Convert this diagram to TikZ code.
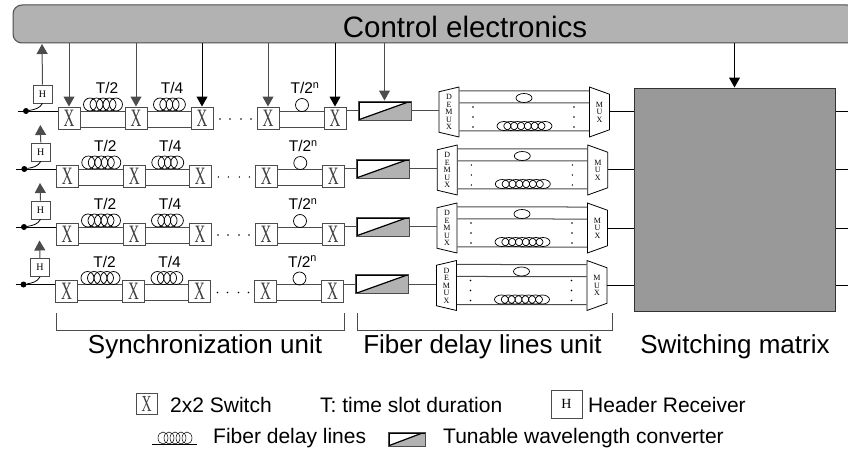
\documentclass[tikz,border=0pt]{standalone}
\usepackage{fontspec}
\setmainfont{Liberation Sans}
\newfontfamily\boxfont{Liberation Serif}
\usetikzlibrary{positioning,calc,shapes.geometric,arrows.meta}
\definecolor{barGray}{gray}{0.70}
\definecolor{matrixGray}{gray}{0.60}
\definecolor{lineGray}{gray}{0.30}
% vong soi quang: x dau, buoc, so vong, rx, y
\newcommand{\fibercoil}[5]{
    \foreach \k in {1,...,#3} {
        \draw[coil] ({#1+(\k-1)*#2},#5) ellipse ({#4} and 6.5);
    }
}
\begin{document}
\begin{tikzpicture}[
        x=1pt, y=-1pt,
        % Style cho cac node
        switchbox/.style={
            rectangle,
            draw=lineGray,
            fill=white,
            text=black!75,
            line width=1pt,
            minimum size=22pt,
            inner sep=0pt,
            font=\boxfont\fontsize{25}{25}\selectfont
        },
        headerbox/.style={
            rectangle,
            draw=lineGray,
            fill=white,
            line width=0.8pt,
            minimum width=19pt,
            minimum height=18pt,
            inner sep=0pt,
            font=\boxfont\fontsize{10}{10}\selectfont
        },
        converter/.style={
            rectangle,
            draw=lineGray,
            line width=1pt,
            minimum width=53pt,
            minimum height=19pt,
            inner sep=0pt,
            path picture={
                \fill[barGray] (path picture bounding box.south west) -- (path picture bounding box.south east) -- (path picture bounding box.north east) -- cycle;
                \draw[black, line width=1.2pt] (path picture bounding box.south west) -- (path picture bounding box.north east);
                \draw[black, line width=3pt] (path picture bounding box.south west) -- (path picture bounding box.north west) -- (path picture bounding box.north east);
            }
        },
        muxbox/.style={
            trapezium,
            draw=black,
            fill=white,
            line width=0.8pt,
            trapezium stretches=true,
            minimum width=50pt,
            minimum height=20pt,
            inner sep=0pt,
            align=center,
            font=\boxfont\fontsize{8}{7.5}\selectfont
        },
        wire/.style={draw=lineGray, line width=1pt},
        coil/.style={draw=black, line width=0.7pt},
        ctl/.style={draw=lineGray, line width=1pt, -{Triangle[length=10pt, width=11pt]}},
        title/.style={font=\fontsize{26}{28}\selectfont},
        legend/.style={font=\fontsize{21}{24}\selectfont, anchor=west, inner sep=0pt},
        tag/.style={font=\fontsize{15.5}{17}\selectfont}
    ]
        \useasboundingbox (0,0) rectangle (848,452);

        % --- 1. KHOI DIEU KHIEN VA MA TRAN ---
        \node[rectangle, draw=black!70, fill=barGray, line width=1pt, rounded corners=9pt, minimum width=843pt, minimum height=38pt, inner sep=0pt] (ctrl) at (434.5,24) {};
        \node[font=\fontsize{29.5}{32}\selectfont] (ctrltext) at (465,27) {Control electronics};
        \node[rectangle, draw=black!80, fill=matrixGray, line width=1pt, minimum width=201pt, minimum height=223pt, inner sep=0pt] (swm) at (734.5,199.5) {};
        \draw[ctl, draw=black] (swm.north |- ctrl.south) -- (swm.north);

        % --- 2. BON HANG ---
        \foreach \r/\dx/\dy/\tip in {1/0/0/44, 2/-1.7/58/67, 3/-2/116/67, 4/-2.5/173.5/67} {
            \begin{scope}[shift={(\dx,\dy)}]
                % Dau vao va header
                \coordinate (in\r) at (18,111);
                \coordinate (top\r) at (42,\tip);
                \node[circle, fill=black, minimum size=6pt, inner sep=0pt] (tap\r) at (26,111) {};
                \node[headerbox] (h\r) at (42.5,94) {H};
                \draw[black, line width=0.8pt] (tap\r) to[out=10, in=-120] (h\r.south);
                \draw[ctl] (h\r.north) -- (top\r);

                % Switch
                \node[switchbox] (sa\r) at (69,118) {\scalebox{0.6}[1]{X}};
                \node[switchbox] (sb\r) at (136,118) {\scalebox{0.6}[1]{X}};
                \node[switchbox] (sc\r) at (202,118) {\scalebox{0.6}[1]{X}};
                \node[switchbox] (sd\r) at (268,118) {\scalebox{0.6}[1]{X}};
                \node[switchbox] (se\r) at (335,118) {\scalebox{0.6}[1]{X}};

                \draw[wire, draw=black] (in\r) -- (in\r -| sa\r.west);
                \draw[wire] ([yshift=7pt]sa\r.east) -- ([yshift=7pt]sb\r.west);
                \draw[wire] ([yshift=-9pt]sa\r.east) -- ([yshift=-9pt]sb\r.west);
                \draw[wire] ([yshift=7pt]sb\r.east) -- ([yshift=7pt]sc\r.west);
                \draw[wire] ([yshift=-9pt]sb\r.east) -- ([yshift=-9pt]sc\r.west);
                \draw[wire] ([yshift=7pt]sd\r.east) -- ([yshift=7pt]se\r.west);
                \draw[wire] ([yshift=-9pt]sd\r.east) -- ([yshift=-9pt]se\r.west);

                % Cuon tre
                \fibercoil{90}{6.5}{5}{6.5}{104.5}
                \fibercoil{160}{6.3}{4}{6.5}{104.5}
                \draw[coil] (302,105) circle (6.5);
                \node[tag] (ta\r) at (107,88) {T/2};
                \node[tag] (tb\r) at (172,88) {T/4};
                \node[tag] (tc\r) at (305,88) {T/2\textsuperscript{n}};
                \foreach \px in {220,230,241,251} {
                    \fill (\px,119) circle (0.8);
                }

                % Bo doi buoc song
                \node[converter] (cv\r) at (384.5,110.5) {};

                % DEMUX / MUX
                \node[muxbox, shape border rotate=90] (dm\r) at (449,112) {D\\E\\M\\U\\X};
                \node[muxbox, shape border rotate=270] (mx\r) at (599.5,112) {M\\U\\X};
                \draw[wire] (se\r.east |- cv\r.west) -- (cv\r.west);
                \draw[wire] (cv\r.east) -- (cv\r.east -| dm\r.west);
                \draw[wire] ([yshift=21pt]dm\r.east) -- ([yshift=21pt]mx\r.west);
                \draw[wire] ([yshift=9pt]dm\r.east) -- ([yshift=9pt]mx\r.west);
                \draw[wire] ([yshift=-19pt]dm\r.east) -- ([yshift=-19pt]mx\r.west);
                \draw[coil] (524,98) ellipse (8 and 4.5);
                \foreach \cx in {504,510.8,517.6,524.4,531.2,538,545} {
                    \draw[coil] (\cx,126) ellipse (7 and 4.5);
                }
                \foreach \py in {107,117,127} {
                    \fill (473,\py) circle (0.8);
                    \fill (574,\py) circle (0.8);
                }

                % Noi vao ma tran
                \draw[wire, draw=black] (mx\r.east) -- (mx\r.east -| swm.west);
                \draw[wire, draw=black] (swm.east |- mx\r.east) -- ++(14,0);
            \end{scope}
        }

        % --- 3. MUI TEN DIEU KHIEN HANG 1 ---
        \draw[ctl] (sa1.north |- ctrl.south) -- (sa1.north);
        \draw[ctl] (sb1.north |- ctrl.south) -- (sb1.north);
        \draw[ctl, draw=black] (sc1.north |- ctrl.south) -- (sc1.north);
        \draw[ctl] (sd1.north |- ctrl.south) -- (sd1.north);
        \draw[ctl, draw=black] (se1.north |- ctrl.south) -- (se1.north);
        \draw[ctl] (cv1.north |- ctrl.south) -- (cv1.north);

        % --- 4. NGOAC VA NHAN ---
        \draw[wire] (56,313) -- (56,330) -- (344,330) -- (344,313);
        \draw[wire] (357,313) -- (357,330) -- (612,330) -- (612,313);
        \node[title] (synclabel) at (205,347) {Synchronization unit};
        \node[title] (fdllabel) at (482.5,347) {Fiber delay lines unit};
        \node[title] (swmlabel) at (735,347) {Switching matrix};

        % --- 5. CHU GIAI ---
        \node[switchbox, line width=0.6pt, minimum size=21pt, font=\boxfont\fontsize{23}{23}\selectfont] (lsw) at (146.5,404) {\scalebox{0.6}[1]{X}};
        \node[legend] (lswtext) at (170,405) {2x2 Switch};
        \node[legend] (ltime) at (320,405) {T: time slot duration};
        \node[headerbox, minimum width=31pt, minimum height=28pt, font=\boxfont\fontsize{14}{14}\selectfont] (lh) at (566.5,404) {H};
        \node[legend] (lhtext) at (588,405) {Header Receiver};

        \draw[coil] (152,444) -- (197,444);
        \foreach \cx in {163,169,175,181,187} {
            \draw[coil, line width=0.5pt] (\cx,438) ellipse (5 and 6);
        }
        \node[legend] (lfiber) at (213,438) {Fiber delay lines};
        \node[converter, minimum width=37pt, minimum height=14pt] (lcv) at (406.5,439) {};
        \node[legend] (lcvtext) at (443,438) {Tunable wavelength converter};

    \end{tikzpicture}
\end{document}
